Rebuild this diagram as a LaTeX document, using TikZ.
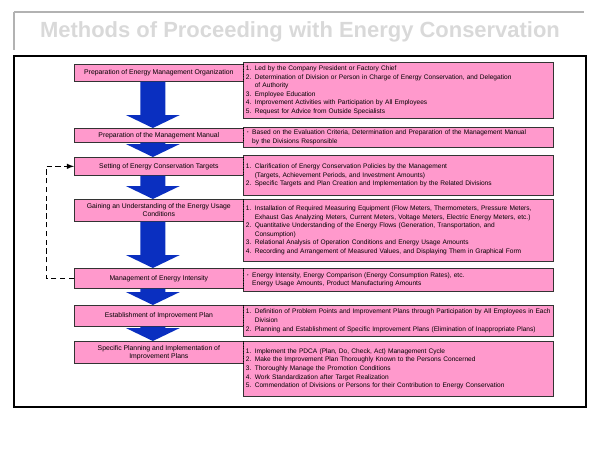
\documentclass[tikz,border=0pt]{standalone}
\usepackage{fontspec}
\setmainfont{Liberation Sans}
\usetikzlibrary{calc}
\definecolor{boxpink}{HTML}{FF99CC}
\definecolor{arrowblue}{HTML}{0A2FC0}
\tikzset{x=0.02cm,y=-0.02cm,
  step box/.style={draw=black!80,fill=boxpink,minimum width=3.38cm,anchor=north west,
    inner sep=1pt,align=center,font=\fontsize{3.9}{4.5}\selectfont},
  detail box/.style={draw=black!80,fill=boxpink,text width=6.1cm,anchor=north west,
    inner sep=1.5pt,align=left,font=\fontsize{3.75}{4.9}\selectfont},
  loop line/.style={densely dashed,thin,-latex}}
\newcommand{\blockarrow}[2]{%
  \fill[arrowblue] ($(#1.south)+(-18.5,0)$) -- ($(#1.south)+(6.5,0)$) -- ($(#2.north)+(6.5,-13)$)
    -- ($(#2.north)+(21,-13)$) -- ($(#2.north)+(-6,0)$) -- ($(#2.north)+(-33,-13)$)
    -- ($(#2.north)+(-18.5,-13)$) -- cycle;}
\newcommand{\ind}{\phantom{1. }}
\begin{document}
\begin{tikzpicture}
\useasboundingbox (0,0) rectangle (600,450);
% title
\draw[gray!60,line width=1.5pt] (14,12) -- (584,12);
\draw[gray!60,line width=1.5pt] (14,12) -- (14,50);
\node[text=gray!30,font=\bfseries\fontsize{12.5}{14}\selectfont] (title) at (300,32)
  {Methods of Proceeding with Energy Conservation};
\draw[line width=0.8pt] (14,56) rectangle (586,407);
% left steps
\node[step box,minimum height=0.34cm] (s1) at (74,64) {Preparation of Energy Management Organization};
\node[step box,minimum height=0.28cm] (s2) at (74,128) {Preparation of the Management Manual};
\node[step box,minimum height=0.36cm] (s3) at (74,157) {Setting of Energy Conservation Targets};
\node[step box,minimum height=0.44cm] (s4) at (74,199) {Gaining an Understanding of the Energy Usage\\Conditions};
\node[step box,minimum height=0.40cm] (s5) at (74,268) {Management of Energy Intensity};
\node[step box,minimum height=0.42cm] (s6) at (74,305) {Establishment of Improvement Plan};
\node[step box,minimum height=0.44cm] (s7) at (74,341) {Specific Planning and Implementation of\\Improvement Plans};
% right details
\node[detail box,minimum height=1.12cm] (d1) at (243,62) {1. Led by the Company President or Factory Chief\\
  2. Determination of Division or Person in Charge of Energy Conservation, and Delegation\\\ind of Authority\\
  3. Employee Education\\4. Improvement Activities with Participation by All Employees\\
  5. Request for Advice from Outside Specialists};
\node[detail box,minimum height=0.32cm] (d2) at (243,127) {$\cdot$ Based on the Evaluation Criteria, Determination and Preparation of the Management Manual\\\phantom{$\cdot$} by the Divisions Responsible};
\node[detail box,minimum height=0.80cm] (d3) at (243,155) {1. Clarification of Energy Conservation Policies by the Management\\
  \ind(Targets, Achievement Periods, and Investment Amounts)\\
  2. Specific Targets and Plan Creation and Implementation by the Related Divisions\\[3pt]};
\node[detail box,minimum height=1.24cm] (d4) at (243,199) {1. Installation of Required Measuring Equipment (Flow Meters, Thermometers, Pressure Meters,\\
  \ind Exhaust Gas Analyzing Meters, Current Meters, Voltage Meters, Electric Energy Meters, etc.)\\
  2. Quantitative Understanding of the Energy Flows (Generation, Transportation, and\\\ind Consumption)\\
  3. Relational Analysis of Operation Conditions and Energy Usage Amounts\\
  4. Recording and Arrangement of Measured Values, and Displaying Them in Graphical Form};
\node[detail box,minimum height=0.46cm] (d5) at (243,268) {$\cdot$ Energy Intensity, Energy Comparison (Energy Consumption Rates), etc.\\
  \phantom{$\cdot$} Energy Usage Amounts, Product Manufacturing Amounts};
\node[detail box,minimum height=0.62cm] (d6) at (243,305) {1. Definition of Problem Points and Improvement Plans through Participation by All Employees in Each\\\ind Division\\
  2. Planning and Establishment of Specific Improvement Plans (Elimination of Inappropriate Plans)};
\node[detail box,minimum height=1.10cm] (d7) at (243,341) {1. Implement the PDCA (Plan, Do, Check, Act) Management Cycle\\
  2. Make the Improvement Plan Thoroughly Known to the Persons Concerned\\
  3. Thoroughly Manage the Promotion Conditions\\
  4. Work Standardization after Target Realization\\
  5. Commendation of Divisions or Persons for their Contribution to Energy Conservation};
% dotted dividers
\foreach \i in {1,...,7}
  \draw[densely dotted,thin] (s\i.north east) -- (s\i.south east);
% block arrows
\blockarrow{s1}{s2}
\blockarrow{s2}{s3}
\blockarrow{s3}{s4}
\blockarrow{s4}{s5}
\blockarrow{s5}{s6}
\blockarrow{s6}{s7}
% feedback loop
\coordinate (c1) at (46,279);
\coordinate (c2) at (46,166);
\draw[loop line] (s5.west) -- (s5.west -| c1) -- (s3.west -| c2) -- (s3.west);
\end{tikzpicture}
\end{document}
